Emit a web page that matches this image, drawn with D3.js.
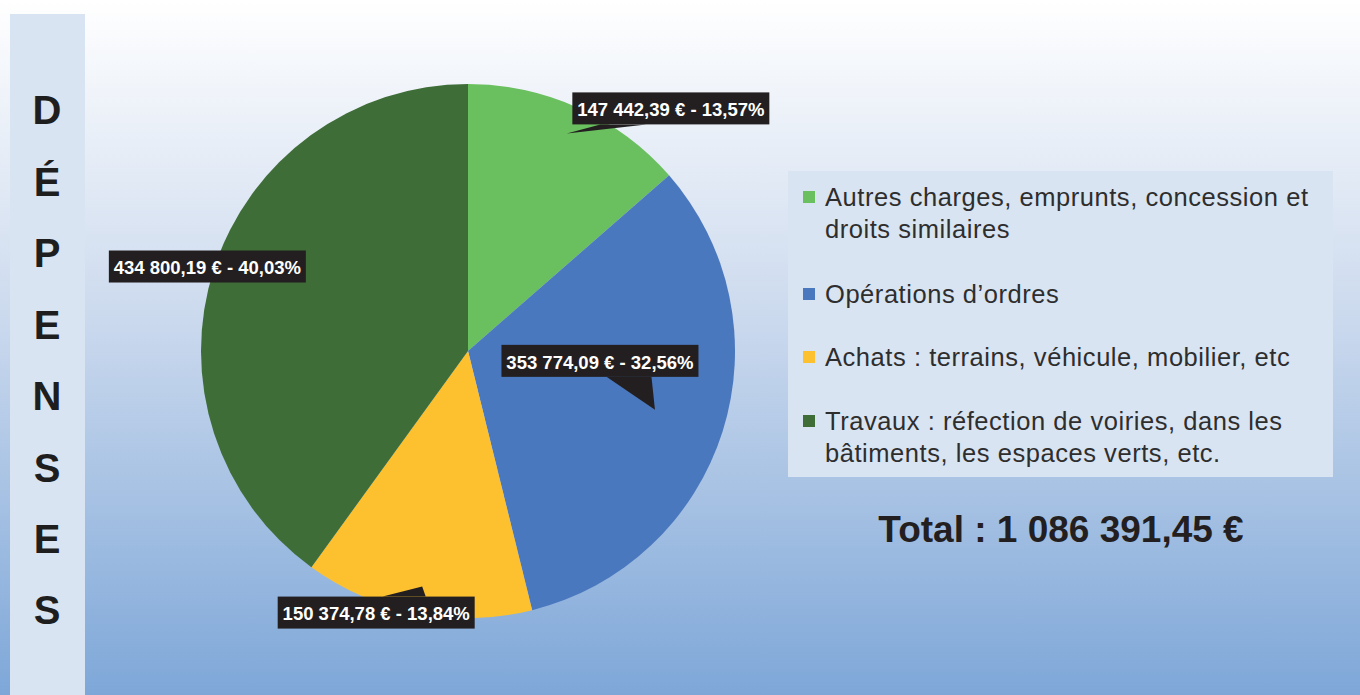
<!DOCTYPE html>
<html><head><meta charset="utf-8">
<script src="https://cdn.jsdelivr.net/npm/d3@7"></script>
<style>html,body{margin:0;padding:0;background:#fff;}svg{display:block;}</style>
</head><body>
<svg id="c" width="1360" height="695"></svg>
<script>
const categories = ["Autres charges, emprunts, concession et droits similaires","Opérations d’ordres","Achats : terrains, véhicule, mobilier, etc","Travaux : réfection de voiries, dans les bâtiments, les espaces verts, etc."];
const legendLines = [["Autres charges, emprunts, concession et","droits similaires"],["Opérations d’ordres"],["Achats : terrains, véhicule, mobilier, etc"],["Travaux : réfection de voiries, dans les","bâtiments, les espaces verts, etc."]];
const values = [147442.39, 353774.09, 150374.78, 434800.19];
const valueLabels = ["147 442,39 €","353 774,09 €","150 374,78 €","434 800,19 €"];
const percentLabels = ["13,57%","32,56%","13,84%","40,03%"];
const colors = ["#6abf5e","#4a78be","#fdc130","#3e6d38"];
const sideTitle = ["D","É","P","E","N","S","E","S"];
const totalLabel = "Total : 1 086 391,45 €";

const W=1360,H=695;
const FONT="Liberation Sans, Arial, sans-serif";
const svg=d3.select("#c");
const defs=svg.append("defs");
const g=defs.append("linearGradient").attr("id","bg").attr("x1",0).attr("y1",0).attr("x2",0).attr("y2",1);
g.append("stop").attr("offset",0).attr("stop-color","#ffffff");
g.append("stop").attr("offset",0.45).attr("stop-color","#ccdaee");
g.append("stop").attr("offset",1).attr("stop-color","#7ea7d8");
svg.append("rect").attr("width",W).attr("height",H).attr("fill","url(#bg)");
// sidebar
svg.append("rect").attr("x",10).attr("y",14).attr("width",75).attr("height",H-14).attr("fill","#d9e4f2");
const sy=d3.scalePoint().domain(d3.range(sideTitle.length)).range([110,610]);
svg.append("g").selectAll("text").data(sideTitle).join("text")
 .attr("x",47).attr("y",(d,i)=>sy(i)).attr("dy","0.36em").attr("text-anchor","middle")
 .attr("font-family",FONT).attr("font-weight","bold").attr("font-size",40).attr("fill","#1e1e1e").text(d=>d);

// pie
const cx=468,cy=351,R=267;
const pie=d3.pie().sort(null).value(d=>d);
const arcs=pie(values);
const arc=d3.arc().innerRadius(0).outerRadius(R);
const pg=svg.append("g").attr("transform",`translate(${cx},${cy})`);
pg.selectAll("path").data(arcs).join("path").attr("d",arc).attr("fill",(d,i)=>colors[i]);

// labels: tip radius and box offset relative to tip
const labelLayout=[{r:239,dx:104,dy:-25,tail:"bl"},{r:196,dx:-55,dy:-49,tail:"b"},{r:240,dx:-46,dy:26,tail:"t"},{r:274,dx:0,dy:0,tail:null}];
const lg=pg.append("g");
arcs.forEach((a,i)=>{
  const mid=(a.startAngle+a.endAngle)/2, L=labelLayout[i];
  const tx=L.r*Math.sin(mid), ty=-L.r*Math.cos(mid);
  const bx=tx+L.dx, by=ty+L.dy;
  const grp=lg.append("g");
  const t=grp.append("text").attr("x",bx).attr("y",by+1).attr("dy","0.36em").attr("text-anchor","middle")
   .attr("font-family",FONT).attr("font-weight","bold").attr("font-size",18.5).attr("fill","#fff")
   .text(valueLabels[i]+" - "+percentLabels[i]);
  const w=197,h=32,x0=bx-w/2,y0=by-h/2;
  let tail=null;
  if(L.tail==="bl") tail=[[x0+28,y0+h],[x0+74,y0+h],[tx,ty]];
  if(L.tail==="b") tail=[[x0+105,y0+h],[x0+150,y0+h],[tx,ty]];
  if(L.tail==="t") tail=[[x0+105,y0],[x0+148,y0],[tx,ty]];
  if(tail) grp.insert("path","text").attr("d",d3.line()(tail)+"Z").attr("fill","#231f20");
  grp.insert("rect","text").attr("x",x0).attr("y",y0).attr("width",w).attr("height",h).attr("fill","#231f20");
});

// legend
svg.append("rect").attr("x",788).attr("y",171).attr("width",545).attr("height",306).attr("fill","#d9e4f2");
const legY=[197,294,357,421];
const leg=svg.append("g");
legendLines.forEach((lines,i)=>{
  leg.append("rect").attr("x",803).attr("y",legY[i]-6).attr("width",12).attr("height",12).attr("fill",colors[i]);
  lines.forEach((ln,j)=>{
    leg.append("text").attr("x",825).attr("y",legY[i]+j*32).attr("dy","0.35em")
     .attr("font-family",FONT).attr("font-size",25.5).attr("letter-spacing",0.55).attr("fill","#2e2e2e").text(ln);
  });
});
svg.append("text").attr("x",1061).attr("y",529).attr("dy","0.36em").attr("text-anchor","middle")
 .attr("font-family",FONT).attr("font-weight","bold").attr("font-size",37).attr("fill","#231f20").text(totalLabel);
</script>
</body></html>
